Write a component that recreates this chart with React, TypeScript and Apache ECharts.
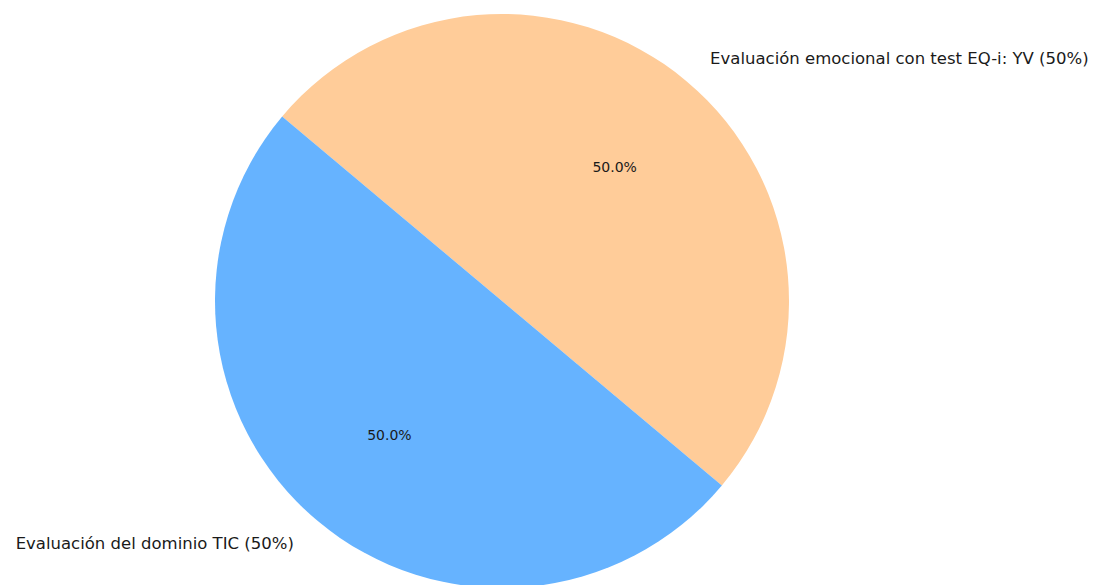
import React, { useEffect, useRef } from "react";
import * as echarts from "echarts";

const categories = [
  "Evaluación emocional con test EQ-i: YV (50%)",
  "Evaluación del dominio TIC (50%)",
];
const values = [50, 50];
const colors = ["#ffcc99", "#66b3ff"];

export default function App() {
  const ref = useRef<HTMLDivElement>(null);
  useEffect(() => {
    document.body.style.margin = "0";
    const chart = echarts.init(ref.current!, null, { renderer: "svg" });
    const data = categories.map((name, i) => ({
      name,
      value: values[i],
      itemStyle: { color: colors[i] },
    }));
    const R = 287;
    const center = [502, 301];
    chart.setOption({
      animation: false,
      backgroundColor: "#ffffff",
      series: [
        {
          type: "pie",
          center,
          radius: [0, R],
          startAngle: 140,
          clockwise: true,
          silent: true,
          data,
          itemStyle: { borderWidth: 0 },
          label: {
            show: true,
            position: "outside",
            formatter: "{b}",
            fontFamily: "DejaVu Sans",
            fontSize: 16.5,
            color: "#1a1a1a",
            alignTo: "none",
            overflow: "none",
            width: 600,
          },
          labelLine: { show: false, length: 29, length2: 0 },
        },
        {
          type: "pie",
          center,
          radius: [0, R * 1.2],
          startAngle: 140,
          clockwise: true,
          silent: true,
          data: data.map((d) => ({ ...d, itemStyle: { color: "transparent" } })),
          label: {
            show: true,
            position: "inside",
            formatter: (p: any) => p.percent.toFixed(1) + "%",
            fontFamily: "DejaVu Sans",
            fontSize: 14,
            color: "#1a1a1a",
          },
          labelLine: { show: false },
        },
      ],
    });
    return () => chart.dispose();
  }, []);
  return (
    <div
      ref={ref}
      style={{ position: "fixed", left: 0, top: 0, width: 1099, height: 585 }}
    />
  );
}
